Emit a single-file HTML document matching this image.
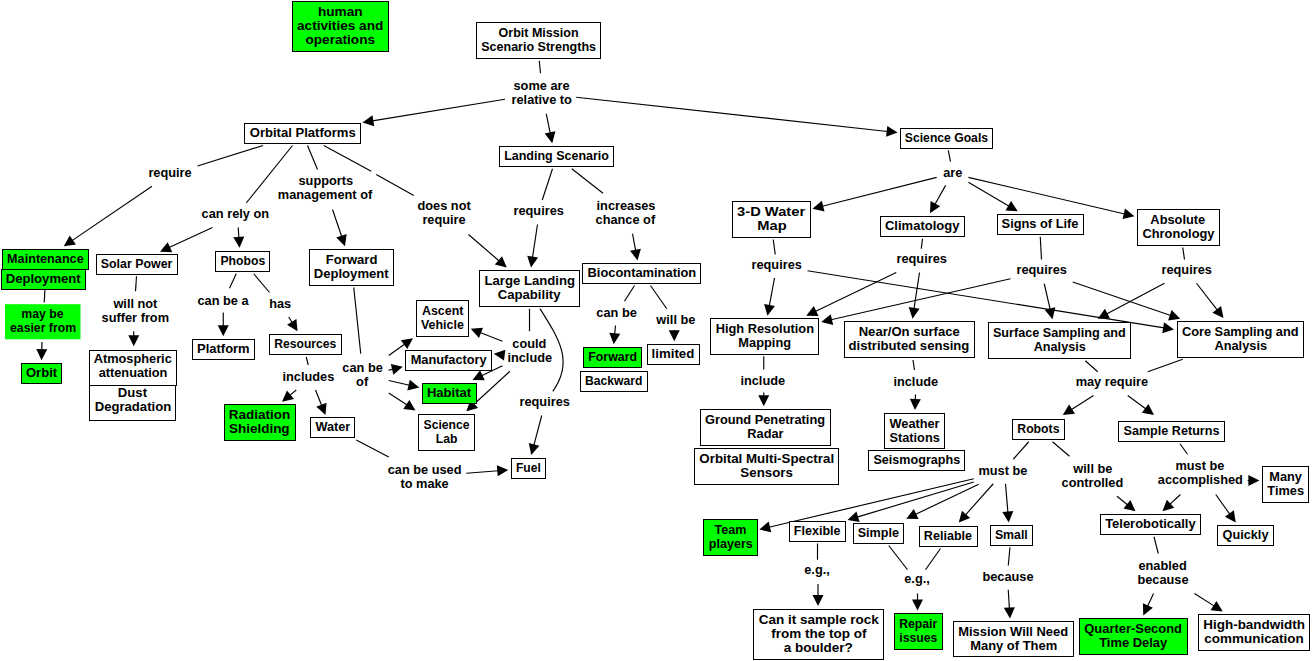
<!DOCTYPE html><html><head><meta charset="utf-8"><style>
html,body{margin:0;padding:0;background:#fff;}
#c{position:relative;width:1312px;height:661px;overflow:hidden;background:#fff;font-family:"Liberation Sans", sans-serif;font-weight:bold;font-size:13.0px;color:#000;}
svg{position:absolute;left:0;top:0;}
.t{position:absolute;white-space:nowrap;line-height:14.0px;height:14.0px;text-align:center;}
.t span{display:inline-block;transform-origin:50% 50%;}
</style></head><body><div id="c">
<svg width="1312" height="661" viewBox="0 0 1312 661"><g stroke="#000" stroke-width="1.15" fill="none"><line x1="539.25" y1="60.75" x2="540.5" y2="73.25"/><line x1="263" y1="145.5" x2="197.5" y2="166"/><line x1="292.5" y1="145.5" x2="246.25" y2="203"/><line x1="307.5" y1="145.5" x2="317.5" y2="169.5"/><line x1="323.75" y1="145.5" x2="371.25" y2="171.25"/><line x1="376.25" y1="174.5" x2="413.75" y2="195.5"/><line x1="552.5" y1="168.75" x2="542.25" y2="200"/><line x1="571.75" y1="168.75" x2="603" y2="193.25"/><line x1="948.3" y1="150.4" x2="950.5" y2="161.6"/><line x1="44.9" y1="289.9" x2="44.2" y2="302.4"/><line x1="136.5" y1="276.25" x2="135.5" y2="291.25"/><line x1="236.25" y1="273.75" x2="229.5" y2="288.25"/><line x1="253.75" y1="273.75" x2="269.5" y2="292.5"/><line x1="306.25" y1="357" x2="308.25" y2="365"/><line x1="353.75" y1="287.5" x2="360.75" y2="353.75"/><line x1="529.5" y1="308.75" x2="529.5" y2="331.25"/><line x1="356.25" y1="440" x2="388.75" y2="457"/><line x1="634.5" y1="285.5" x2="624.5" y2="301.25"/><line x1="650.5" y1="285.5" x2="666.75" y2="308.75"/><line x1="773.25" y1="239.5" x2="775.25" y2="254.5"/><line x1="922.5" y1="238.75" x2="921.25" y2="248.75"/><line x1="1040.25" y1="236.75" x2="1041.5" y2="259.5"/><line x1="1182.75" y1="247.5" x2="1184.5" y2="259.5"/><line x1="763.75" y1="356.25" x2="763.75" y2="369.5"/><line x1="913" y1="360" x2="914.5" y2="370"/><line x1="1085.25" y1="360.75" x2="1097.75" y2="371.75"/><line x1="1182.75" y1="359.25" x2="1147.75" y2="371.75"/><line x1="1028.75" y1="441.75" x2="1013.25" y2="459.25"/><line x1="1052.5" y1="441.75" x2="1069.5" y2="456.25"/><line x1="1180" y1="443.75" x2="1187.5" y2="454.25"/><line x1="817.5" y1="543.5" x2="817.5" y2="559.75"/><line x1="888.75" y1="545.5" x2="907.5" y2="569.75"/><line x1="940.5" y1="548.5" x2="925.5" y2="569.75"/><line x1="1010" y1="547.25" x2="1008.25" y2="565.5"/><line x1="1154" y1="536.75" x2="1158.25" y2="553.5"/><path d="M540,308.7 C559.07,338.89 574.07,361.99 552.8,391.3"/><line x1="505" y1="99.25" x2="372.37" y2="120.89"/><line x1="546.25" y1="113.75" x2="550.26" y2="133.45"/><line x1="576.2" y1="97.2" x2="887.66" y2="131.51"/><line x1="152" y1="186.25" x2="72.02" y2="240.63"/><line x1="212.5" y1="227.5" x2="169.08" y2="247.56"/><line x1="238.2" y1="227.4" x2="238.86" y2="237.82"/><line x1="332.5" y1="209.5" x2="341.78" y2="236.78"/><line x1="468.5" y1="234.5" x2="499.18" y2="260.97"/><line x1="537.5" y1="224.5" x2="532.49" y2="257.61"/><line x1="632.5" y1="233.75" x2="635.66" y2="250.67"/><line x1="936.7" y1="177.4" x2="822.20" y2="206.30"/><line x1="945.6" y1="185.4" x2="934.89" y2="204.53"/><line x1="968.4" y1="182.3" x2="1009.12" y2="206.19"/><line x1="968.4" y1="177.4" x2="1124.76" y2="213.97"/><line x1="42" y1="342" x2="41.77" y2="350.20"/><line x1="133.75" y1="331.25" x2="133.75" y2="336.25"/><line x1="223.25" y1="312.5" x2="223.25" y2="326.25"/><line x1="288.75" y1="317" x2="292.27" y2="322.73"/><line x1="296.25" y1="390" x2="289.72" y2="395.39"/><line x1="315.5" y1="390" x2="321.79" y2="405.72"/><line x1="388.75" y1="355.5" x2="404.85" y2="344.05"/><line x1="388.5" y1="370.2" x2="393.07" y2="369.11"/><line x1="388.75" y1="380.5" x2="409.50" y2="385.26"/><line x1="388.75" y1="393" x2="407.13" y2="405.03"/><line x1="502.5" y1="341.25" x2="480.05" y2="332.41"/><line x1="503.75" y1="355" x2="503.67" y2="354.99"/><line x1="502.5" y1="365.75" x2="481.53" y2="375.71"/><line x1="510" y1="371.25" x2="473.63" y2="404.50"/><line x1="541.75" y1="415.5" x2="533.82" y2="445.34"/><line x1="466.25" y1="473.25" x2="498.28" y2="470.77"/><line x1="615.5" y1="325.5" x2="614.68" y2="334.29"/><line x1="674.25" y1="330" x2="674.25" y2="331.25"/><line x1="774.5" y1="278" x2="769.32" y2="305.92"/><line x1="807.5" y1="270.75" x2="1164.13" y2="327.92"/><line x1="896.25" y1="272.5" x2="815.26" y2="311.42"/><line x1="919.5" y1="272.5" x2="914.00" y2="308.86"/><line x1="1010.5" y1="278.75" x2="831.00" y2="319.77"/><line x1="1044.25" y1="283.75" x2="1050.24" y2="309.51"/><line x1="1072.75" y1="282" x2="1170.79" y2="315.52"/><line x1="1164.5" y1="283.25" x2="1106.58" y2="314.05"/><line x1="1196.5" y1="283.25" x2="1217.36" y2="310.10"/><line x1="763.75" y1="392.5" x2="763.75" y2="396.25"/><line x1="915.5" y1="394.5" x2="915.32" y2="400.01"/><line x1="1093.5" y1="395.5" x2="1071.20" y2="409.64"/><line x1="1127.75" y1="395.5" x2="1145.97" y2="409.04"/><line x1="973.75" y1="478.75" x2="768.98" y2="527.20"/><line x1="973.75" y1="482" x2="857.08" y2="517.12"/><line x1="978.75" y1="484.25" x2="915.28" y2="514.45"/><line x1="993.25" y1="483.75" x2="965.40" y2="515.03"/><line x1="1005.5" y1="483.75" x2="1007.91" y2="512.53"/><line x1="1117" y1="496.25" x2="1127.73" y2="504.95"/><line x1="1247.6" y1="480.5" x2="1249.40" y2="480.50"/><line x1="1180.5" y1="494.5" x2="1169.82" y2="504.44"/><line x1="1215.75" y1="494.5" x2="1229.94" y2="514.36"/><line x1="818" y1="584" x2="818.00" y2="596.00"/><line x1="917.5" y1="593.5" x2="917.50" y2="600.50"/><line x1="1008.25" y1="589.75" x2="1009.39" y2="608.52"/><line x1="1153.5" y1="593.5" x2="1147.47" y2="606.44"/><line x1="1194.5" y1="593.5" x2="1214.32" y2="606.13"/></g><g fill="#000" stroke="none"><polygon points="362.50,122.50 372.47,115.30 374.24,126.16"/><polygon points="552.25,143.25 544.67,133.57 555.45,131.37"/><polygon points="897.60,132.60 886.06,136.86 887.27,125.93"/><polygon points="63.75,246.25 69.75,235.52 75.94,244.61"/><polygon points="160.00,251.75 167.68,242.14 172.29,252.13"/><polygon points="239.50,247.80 233.31,237.17 244.29,236.47"/><polygon points="345.00,246.25 336.25,237.61 346.66,234.06"/><polygon points="506.75,267.50 494.83,264.48 502.01,256.15"/><polygon points="531.00,267.50 527.21,255.80 538.08,257.45"/><polygon points="637.50,260.50 630.07,250.70 640.89,248.68"/><polygon points="812.50,208.75 821.82,200.73 824.51,211.39"/><polygon points="930.00,213.25 930.58,200.97 940.17,206.34"/><polygon points="1017.75,211.25 1005.48,210.43 1011.04,200.94"/><polygon points="1134.50,216.25 1122.54,219.10 1125.04,208.39"/><polygon points="41.50,360.20 36.30,349.05 47.30,349.36"/><polygon points="133.75,346.25 128.25,335.25 139.25,335.25"/><polygon points="223.25,336.25 217.75,325.25 228.75,325.25"/><polygon points="297.50,331.25 287.06,324.75 296.43,319.00"/><polygon points="282.00,401.75 286.99,390.51 293.99,399.00"/><polygon points="325.50,415.00 316.31,406.83 326.52,402.74"/><polygon points="413.00,338.25 407.22,349.11 400.85,340.14"/><polygon points="402.80,366.80 393.37,374.70 390.83,363.99"/><polygon points="419.25,387.50 407.30,390.40 409.76,379.68"/><polygon points="415.50,410.50 403.28,409.08 409.31,399.88"/><polygon points="470.75,328.75 483.00,327.66 478.97,337.90"/><polygon points="493.75,353.75 505.35,349.66 503.98,360.57"/><polygon points="472.50,380.00 480.08,370.31 484.80,380.25"/><polygon points="466.25,411.25 470.66,399.77 478.08,407.89"/><polygon points="531.25,455.00 528.76,442.96 539.39,445.78"/><polygon points="508.25,470.00 497.71,476.33 496.86,465.37"/><polygon points="613.75,344.25 609.30,332.79 620.25,333.81"/><polygon points="674.25,341.25 668.75,330.25 679.75,330.25"/><polygon points="767.50,315.75 764.10,303.93 774.91,305.94"/><polygon points="1174.00,329.50 1162.27,333.19 1164.01,322.33"/><polygon points="806.25,315.75 813.78,306.03 818.55,315.94"/><polygon points="912.50,318.75 908.71,307.05 919.58,308.70"/><polygon points="821.25,322.00 830.75,314.19 833.20,324.91"/><polygon points="1052.50,319.25 1044.65,309.78 1055.37,307.29"/><polygon points="1180.25,318.75 1168.06,320.40 1171.62,309.99"/><polygon points="1097.75,318.75 1104.88,308.73 1110.04,318.44"/><polygon points="1223.50,318.00 1212.41,312.69 1221.09,305.94"/><polygon points="763.75,406.25 758.25,395.25 769.25,395.25"/><polygon points="915.00,410.00 909.86,398.83 920.85,399.18"/><polygon points="1062.75,415.00 1069.09,404.46 1074.99,413.75"/><polygon points="1154.00,415.00 1141.89,412.86 1148.45,404.03"/><polygon points="759.25,529.50 768.69,521.62 771.22,532.32"/><polygon points="847.50,520.00 856.45,511.56 859.62,522.10"/><polygon points="906.25,518.75 913.82,509.06 918.55,518.99"/><polygon points="958.75,522.50 961.96,510.63 970.17,517.94"/><polygon points="1008.75,522.50 1002.35,512.00 1013.31,511.08"/><polygon points="1135.50,511.25 1123.49,508.59 1130.42,500.05"/><polygon points="1259.40,480.50 1248.40,486.00 1248.40,475.00"/><polygon points="1162.50,511.25 1166.81,499.73 1174.30,507.78"/><polygon points="1235.75,522.50 1224.88,516.75 1233.83,510.35"/><polygon points="818.00,606.00 812.50,595.00 823.50,595.00"/><polygon points="917.50,610.50 912.00,599.50 923.00,599.50"/><polygon points="1010.00,618.50 1003.84,607.85 1014.82,607.19"/><polygon points="1143.25,615.50 1142.91,603.21 1152.88,607.85"/><polygon points="1222.75,611.50 1210.52,610.23 1216.43,600.95"/></g><rect x="292.5" y="1.5" width="96" height="50" fill="#00ff00" stroke="#000" stroke-width="1"/><rect x="476.5" y="22.5" width="124" height="36" fill="#fff" stroke="#000" stroke-width="1"/><rect x="244.5" y="123.5" width="116" height="20" fill="#fff" stroke="#000" stroke-width="1"/><rect x="499.5" y="146.5" width="114" height="20" fill="#fff" stroke="#000" stroke-width="1"/><rect x="900.5" y="128.5" width="92" height="20" fill="#fff" stroke="#000" stroke-width="1"/><rect x="2.5" y="249.5" width="86" height="20" fill="#00ff00" stroke="#000" stroke-width="1"/><rect x="1.5" y="269.5" width="84" height="20" fill="#00ff00" stroke="#000" stroke-width="1"/><rect x="5" y="304.2" width="75.50" height="35.10" fill="#00ff00" stroke="none"/><rect x="21.5" y="363.5" width="40" height="20" fill="#00ff00" stroke="#000" stroke-width="1"/><rect x="96.5" y="254.5" width="81" height="20" fill="#fff" stroke="#000" stroke-width="1"/><rect x="215.5" y="251.5" width="54" height="20" fill="#fff" stroke="#000" stroke-width="1"/><rect x="309.5" y="249.5" width="84" height="36" fill="#fff" stroke="#000" stroke-width="1"/><rect x="479.5" y="270.5" width="100" height="36" fill="#fff" stroke="#000" stroke-width="1"/><rect x="582.5" y="263.5" width="118" height="20" fill="#fff" stroke="#000" stroke-width="1"/><rect x="732.5" y="201.5" width="78" height="36" fill="#fff" stroke="#000" stroke-width="1"/><rect x="880.5" y="216.5" width="84" height="20" fill="#fff" stroke="#000" stroke-width="1"/><rect x="997.5" y="214.5" width="86" height="20" fill="#fff" stroke="#000" stroke-width="1"/><rect x="1137.5" y="209.5" width="82" height="36" fill="#fff" stroke="#000" stroke-width="1"/><rect x="89.5" y="350.5" width="87" height="35" fill="#fff" stroke="#000" stroke-width="1"/><rect x="89.5" y="385.5" width="86" height="35" fill="#fff" stroke="#000" stroke-width="1"/><rect x="192.5" y="339.5" width="62" height="20" fill="#fff" stroke="#000" stroke-width="1"/><rect x="269.5" y="334.5" width="72" height="20" fill="#fff" stroke="#000" stroke-width="1"/><rect x="224.5" y="404.5" width="71" height="36" fill="#00ff00" stroke="#000" stroke-width="1"/><rect x="310.5" y="417.5" width="44" height="20" fill="#fff" stroke="#000" stroke-width="1"/><rect x="416.5" y="300.5" width="52" height="36" fill="#fff" stroke="#000" stroke-width="1"/><rect x="405.5" y="350.5" width="86" height="20" fill="#fff" stroke="#000" stroke-width="1"/><rect x="422.5" y="383.5" width="54" height="20" fill="#00ff00" stroke="#000" stroke-width="1"/><rect x="418.5" y="414.5" width="56" height="36" fill="#fff" stroke="#000" stroke-width="1"/><rect x="511.5" y="458.5" width="34" height="20" fill="#fff" stroke="#000" stroke-width="1"/><rect x="583.5" y="347.5" width="58" height="20" fill="#00ff00" stroke="#000" stroke-width="1"/><rect x="580.5" y="371.5" width="67" height="20" fill="#fff" stroke="#000" stroke-width="1"/><rect x="647.5" y="344.5" width="52" height="20" fill="#fff" stroke="#000" stroke-width="1"/><rect x="710.5" y="318.5" width="108" height="36" fill="#fff" stroke="#000" stroke-width="1"/><rect x="844.5" y="321.5" width="130" height="36" fill="#fff" stroke="#000" stroke-width="1"/><rect x="988.5" y="322.5" width="142" height="36" fill="#fff" stroke="#000" stroke-width="1"/><rect x="1177.5" y="321.5" width="126" height="36" fill="#fff" stroke="#000" stroke-width="1"/><rect x="700.5" y="409.5" width="130" height="36" fill="#fff" stroke="#000" stroke-width="1"/><rect x="694.5" y="448.5" width="144" height="36" fill="#fff" stroke="#000" stroke-width="1"/><rect x="884.5" y="413.5" width="60" height="35" fill="#fff" stroke="#000" stroke-width="1"/><rect x="868.5" y="450.5" width="96" height="20" fill="#fff" stroke="#000" stroke-width="1"/><rect x="1012.5" y="419.5" width="52" height="20" fill="#fff" stroke="#000" stroke-width="1"/><rect x="1118.5" y="421.5" width="106" height="20" fill="#fff" stroke="#000" stroke-width="1"/><rect x="1262.5" y="466.5" width="46" height="36" fill="#fff" stroke="#000" stroke-width="1"/><rect x="1100.5" y="514.5" width="100" height="20" fill="#fff" stroke="#000" stroke-width="1"/><rect x="1217.5" y="525.5" width="56" height="20" fill="#fff" stroke="#000" stroke-width="1"/><rect x="703.5" y="519.5" width="54" height="36" fill="#00ff00" stroke="#000" stroke-width="1"/><rect x="789.5" y="521.5" width="56" height="20" fill="#fff" stroke="#000" stroke-width="1"/><rect x="853.5" y="523.5" width="50" height="20" fill="#fff" stroke="#000" stroke-width="1"/><rect x="919.5" y="526.5" width="58" height="20" fill="#fff" stroke="#000" stroke-width="1"/><rect x="990.5" y="525.5" width="42" height="20" fill="#fff" stroke="#000" stroke-width="1"/><rect x="753.5" y="609.5" width="130" height="50" fill="#fff" stroke="#000" stroke-width="1"/><rect x="894.5" y="613.5" width="48" height="36" fill="#00ff00" stroke="#000" stroke-width="1"/><rect x="953.5" y="621.5" width="120" height="35" fill="#fff" stroke="#000" stroke-width="1"/><rect x="1079.5" y="618.5" width="108" height="36" fill="#00ff00" stroke="#000" stroke-width="1"/><rect x="1198.5" y="614.5" width="111" height="36" fill="#fff" stroke="#000" stroke-width="1"/></svg>
<div class="t" style="left:140.40px;top:4.85px;width:400px"><span id="s0" style="transform:scaleX(1.048)">human</span></div>
<div class="t" style="left:140.40px;top:18.85px;width:400px"><span id="s1" style="transform:scaleX(1.048)">activities and</span></div>
<div class="t" style="left:140.40px;top:32.85px;width:400px"><span id="s2" style="transform:scaleX(1.048)">operations</span></div>
<div class="t" style="left:338.38px;top:25.75px;width:400px"><span id="s3" style="transform:scaleX(0.963)">Orbit Mission</span></div>
<div class="t" style="left:338.38px;top:39.75px;width:400px"><span id="s4" style="transform:scaleX(0.963)">Scenario Strengths</span></div>
<div class="t" style="left:102.50px;top:125.85px;width:400px"><span id="s5" style="transform:scaleX(1.004)">Orbital Platforms</span></div>
<div class="t" style="left:356.38px;top:148.88px;width:400px"><span id="s6" style="transform:scaleX(0.960)">Landing Scenario</span></div>
<div class="t" style="left:746.45px;top:130.90px;width:400px"><span id="s7" style="transform:scaleX(0.936)">Science Goals</span></div>
<div class="t" style="left:-154.65px;top:252.00px;width:400px"><span id="s8" style="transform:scaleX(0.973)">Maintenance</span></div>
<div class="t" style="left:-156.60px;top:271.95px;width:400px"><span id="s9" style="transform:scaleX(1.009)">Deployment</span></div>
<div class="t" style="left:-157.25px;top:307.25px;width:400px"><span id="s10" style="transform:scaleX(0.942)">may be</span></div>
<div class="t" style="left:-157.25px;top:321.25px;width:400px"><span id="s11" style="transform:scaleX(0.942)">easier from</span></div>
<div class="t" style="left:-158.47px;top:365.95px;width:400px"><span id="s12" style="transform:scaleX(1.006)">Orbit</span></div>
<div class="t" style="left:-63.50px;top:256.75px;width:400px"><span id="s13" style="transform:scaleX(0.952)">Solar Power</span></div>
<div class="t" style="left:42.38px;top:253.88px;width:400px"><span id="s14" style="transform:scaleX(0.939)">Phobos</span></div>
<div class="t" style="left:151.43px;top:252.88px;width:400px"><span id="s15" style="transform:scaleX(1.006)">Forward</span></div>
<div class="t" style="left:151.43px;top:266.88px;width:400px"><span id="s16" style="transform:scaleX(1.006)">Deployment</span></div>
<div class="t" style="left:329.45px;top:273.62px;width:400px"><span id="s17" style="transform:scaleX(1.012)">Large Landing</span></div>
<div class="t" style="left:329.45px;top:287.62px;width:400px"><span id="s18" style="transform:scaleX(1.012)">Capability</span></div>
<div class="t" style="left:441.40px;top:265.77px;width:400px"><span id="s19" style="transform:scaleX(0.990)">Biocontamination</span></div>
<div class="t" style="left:571.50px;top:204.75px;width:400px"><span id="s20" style="transform:scaleX(1.130)">3-D Water</span></div>
<div class="t" style="left:571.50px;top:218.75px;width:400px"><span id="s21" style="transform:scaleX(1.130)">Map</span></div>
<div class="t" style="left:722.50px;top:219.00px;width:400px"><span id="s22" style="transform:scaleX(1.001)">Climatology</span></div>
<div class="t" style="left:840.38px;top:216.88px;width:400px"><span id="s23" style="transform:scaleX(0.984)">Signs of Life</span></div>
<div class="t" style="left:978.25px;top:212.75px;width:400px"><span id="s24" style="transform:scaleX(0.987)">Absolute</span></div>
<div class="t" style="left:978.25px;top:226.75px;width:400px"><span id="s25" style="transform:scaleX(0.987)">Chronology</span></div>
<div class="t" style="left:-67.25px;top:352.20px;width:400px"><span id="s26" style="transform:scaleX(0.982)">Atmospheric</span></div>
<div class="t" style="left:-67.25px;top:366.20px;width:400px"><span id="s27" style="transform:scaleX(0.982)">attenuation</span></div>
<div class="t" style="left:-67.50px;top:386.00px;width:400px"><span id="s28" style="transform:scaleX(1.009)">Dust</span></div>
<div class="t" style="left:-67.50px;top:400.00px;width:400px"><span id="s29" style="transform:scaleX(1.009)">Degradation</span></div>
<div class="t" style="left:23.50px;top:341.75px;width:400px"><span id="s30" style="transform:scaleX(0.996)">Platform</span></div>
<div class="t" style="left:105.50px;top:336.88px;width:400px"><span id="s31" style="transform:scaleX(0.933)">Resources</span></div>
<div class="t" style="left:59.50px;top:407.75px;width:400px"><span id="s32" style="transform:scaleX(1.038)">Radiation</span></div>
<div class="t" style="left:59.50px;top:421.75px;width:400px"><span id="s33" style="transform:scaleX(1.038)">Shielding</span></div>
<div class="t" style="left:132.38px;top:420.00px;width:400px"><span id="s34" style="transform:scaleX(0.975)">Water</span></div>
<div class="t" style="left:242.38px;top:304.00px;width:400px"><span id="s35" style="transform:scaleX(0.954)">Ascent</span></div>
<div class="t" style="left:242.38px;top:318.00px;width:400px"><span id="s36" style="transform:scaleX(0.954)">Vehicle</span></div>
<div class="t" style="left:248.50px;top:353.00px;width:400px"><span id="s37" style="transform:scaleX(0.983)">Manufactory</span></div>
<div class="t" style="left:249.38px;top:386.00px;width:400px"><span id="s38" style="transform:scaleX(1.004)">Habitat</span></div>
<div class="t" style="left:246.65px;top:417.88px;width:400px"><span id="s39" style="transform:scaleX(0.936)">Science</span></div>
<div class="t" style="left:246.65px;top:431.88px;width:400px"><span id="s40" style="transform:scaleX(0.936)">Lab</span></div>
<div class="t" style="left:328.38px;top:460.88px;width:400px"><span id="s41" style="transform:scaleX(0.926)">Fuel</span></div>
<div class="t" style="left:412.38px;top:350.00px;width:400px"><span id="s42" style="transform:scaleX(0.950)">Forward</span></div>
<div class="t" style="left:413.50px;top:373.88px;width:400px"><span id="s43" style="transform:scaleX(0.936)">Backward</span></div>
<div class="t" style="left:473.38px;top:346.75px;width:400px"><span id="s44" style="transform:scaleX(1.020)">limited</span></div>
<div class="t" style="left:564.38px;top:322.00px;width:400px"><span id="s45" style="transform:scaleX(0.986)">High Resolution</span></div>
<div class="t" style="left:564.38px;top:336.00px;width:400px"><span id="s46" style="transform:scaleX(0.986)">Mapping</span></div>
<div class="t" style="left:709.38px;top:324.88px;width:400px"><span id="s47" style="transform:scaleX(1.007)">Near/On surface</span></div>
<div class="t" style="left:709.38px;top:338.88px;width:400px"><span id="s48" style="transform:scaleX(1.007)">distributed sensing</span></div>
<div class="t" style="left:859.38px;top:325.75px;width:400px"><span id="s49" style="transform:scaleX(0.972)">Surface Sampling and</span></div>
<div class="t" style="left:859.38px;top:339.75px;width:400px"><span id="s50" style="transform:scaleX(0.972)">Analysis</span></div>
<div class="t" style="left:1040.38px;top:324.88px;width:400px"><span id="s51" style="transform:scaleX(0.985)">Core Sampling and</span></div>
<div class="t" style="left:1040.38px;top:338.88px;width:400px"><span id="s52" style="transform:scaleX(0.985)">Analysis</span></div>
<div class="t" style="left:565.50px;top:412.75px;width:400px"><span id="s53" style="transform:scaleX(0.983)">Ground Penetrating</span></div>
<div class="t" style="left:565.50px;top:426.75px;width:400px"><span id="s54" style="transform:scaleX(0.983)">Radar</span></div>
<div class="t" style="left:566.38px;top:451.75px;width:400px"><span id="s55" style="transform:scaleX(1.025)">Orbital Multi-Spectral</span></div>
<div class="t" style="left:566.38px;top:465.75px;width:400px"><span id="s56" style="transform:scaleX(1.025)">Sensors</span></div>
<div class="t" style="left:714.38px;top:416.75px;width:400px"><span id="s57" style="transform:scaleX(0.980)">Weather</span></div>
<div class="t" style="left:714.38px;top:430.75px;width:400px"><span id="s58" style="transform:scaleX(0.980)">Stations</span></div>
<div class="t" style="left:716.38px;top:452.75px;width:400px"><span id="s59" style="transform:scaleX(0.968)">Seismographs</span></div>
<div class="t" style="left:838.38px;top:422.00px;width:400px"><span id="s60" style="transform:scaleX(0.943)">Robots</span></div>
<div class="t" style="left:971.50px;top:423.88px;width:400px"><span id="s61" style="transform:scaleX(0.970)">Sample Returns</span></div>
<div class="t" style="left:1085.35px;top:469.85px;width:400px"><span id="s62" style="transform:scaleX(0.980)">Many</span></div>
<div class="t" style="left:1085.35px;top:483.85px;width:400px"><span id="s63" style="transform:scaleX(0.980)">Times</span></div>
<div class="t" style="left:950.50px;top:516.95px;width:400px"><span id="s64" style="transform:scaleX(0.997)">Telerobotically</span></div>
<div class="t" style="left:1045.47px;top:527.75px;width:400px"><span id="s65" style="transform:scaleX(0.978)">Quickly</span></div>
<div class="t" style="left:530.50px;top:522.90px;width:400px"><span id="s66" style="transform:scaleX(0.966)">Team</span></div>
<div class="t" style="left:530.50px;top:536.90px;width:400px"><span id="s67" style="transform:scaleX(0.966)">players</span></div>
<div class="t" style="left:617.38px;top:524.05px;width:400px"><span id="s68" style="transform:scaleX(0.965)">Flexible</span></div>
<div class="t" style="left:678.35px;top:525.95px;width:400px"><span id="s69" style="transform:scaleX(0.967)">Simple</span></div>
<div class="t" style="left:748.38px;top:528.95px;width:400px"><span id="s70" style="transform:scaleX(0.968)">Reliable</span></div>
<div class="t" style="left:811.50px;top:527.80px;width:400px"><span id="s71" style="transform:scaleX(0.948)">Small</span></div>
<div class="t" style="left:618.50px;top:613.00px;width:400px"><span id="s72" style="transform:scaleX(1.038)">Can it sample rock</span></div>
<div class="t" style="left:618.50px;top:627.00px;width:400px"><span id="s73" style="transform:scaleX(1.038)">from the top of</span></div>
<div class="t" style="left:618.50px;top:641.00px;width:400px"><span id="s74" style="transform:scaleX(1.038)">a boulder?</span></div>
<div class="t" style="left:718.25px;top:616.75px;width:400px"><span id="s75" style="transform:scaleX(0.939)">Repair</span></div>
<div class="t" style="left:718.25px;top:630.75px;width:400px"><span id="s76" style="transform:scaleX(0.939)">issues</span></div>
<div class="t" style="left:813.50px;top:624.62px;width:400px"><span id="s77" style="transform:scaleX(0.996)">Mission Will Need</span></div>
<div class="t" style="left:813.50px;top:638.62px;width:400px"><span id="s78" style="transform:scaleX(0.996)">Many of Them</span></div>
<div class="t" style="left:933.38px;top:621.75px;width:400px"><span id="s79" style="transform:scaleX(0.995)">Quarter-Second</span></div>
<div class="t" style="left:933.38px;top:635.75px;width:400px"><span id="s80" style="transform:scaleX(0.995)">Time Delay</span></div>
<div class="t" style="left:1054.12px;top:618.00px;width:400px"><span id="s81" style="transform:scaleX(1.036)">High-bandwidth</span></div>
<div class="t" style="left:1054.12px;top:632.00px;width:400px"><span id="s82" style="transform:scaleX(1.036)">communication</span></div>
<div class="t" style="left:341.75px;top:78.75px;width:400px"><span id="s83" style="transform:scaleX(0.982)">some are</span></div>
<div class="t" style="left:341.75px;top:92.75px;width:400px"><span id="s84" style="transform:scaleX(0.982)">relative to</span></div>
<div class="t" style="left:-29.50px;top:165.50px;width:400px"><span id="s85" style="transform:scaleX(0.982)">require</span></div>
<div class="t" style="left:35.75px;top:207.25px;width:400px"><span id="s86" style="transform:scaleX(0.982)">can rely on</span></div>
<div class="t" style="left:125.50px;top:173.75px;width:400px"><span id="s87" style="transform:scaleX(0.982)">supports</span></div>
<div class="t" style="left:125.50px;top:187.75px;width:400px"><span id="s88" style="transform:scaleX(0.982)">management of</span></div>
<div class="t" style="left:243.60px;top:199.25px;width:400px"><span id="s89" style="transform:scaleX(0.982)">does not</span></div>
<div class="t" style="left:243.60px;top:213.25px;width:400px"><span id="s90" style="transform:scaleX(0.982)">require</span></div>
<div class="t" style="left:338.50px;top:204.25px;width:400px"><span id="s91" style="transform:scaleX(0.982)">requires</span></div>
<div class="t" style="left:425.50px;top:199.25px;width:400px"><span id="s92" style="transform:scaleX(0.982)">increases</span></div>
<div class="t" style="left:425.50px;top:213.25px;width:400px"><span id="s93" style="transform:scaleX(0.982)">chance of</span></div>
<div class="t" style="left:752.70px;top:165.50px;width:400px"><span id="s94" style="transform:scaleX(0.982)">are</span></div>
<div class="t" style="left:-65.00px;top:297.25px;width:400px"><span id="s95" style="transform:scaleX(0.982)">will not</span></div>
<div class="t" style="left:-65.00px;top:311.25px;width:400px"><span id="s96" style="transform:scaleX(0.982)">suffer from</span></div>
<div class="t" style="left:23.25px;top:293.50px;width:400px"><span id="s97" style="transform:scaleX(0.982)">can be a</span></div>
<div class="t" style="left:80.00px;top:296.75px;width:400px"><span id="s98" style="transform:scaleX(0.982)">has</span></div>
<div class="t" style="left:108.75px;top:370.00px;width:400px"><span id="s99" style="transform:scaleX(0.982)">includes</span></div>
<div class="t" style="left:162.50px;top:360.50px;width:400px"><span id="s100" style="transform:scaleX(0.982)">can be</span></div>
<div class="t" style="left:162.50px;top:374.50px;width:400px"><span id="s101" style="transform:scaleX(0.982)">of</span></div>
<div class="t" style="left:329.50px;top:337.25px;width:400px"><span id="s102" style="transform:scaleX(0.982)">could</span></div>
<div class="t" style="left:329.50px;top:351.25px;width:400px"><span id="s103" style="transform:scaleX(0.982)">include</span></div>
<div class="t" style="left:344.75px;top:394.90px;width:400px"><span id="s104" style="transform:scaleX(0.982)">requires</span></div>
<div class="t" style="left:224.50px;top:463.00px;width:400px"><span id="s105" style="transform:scaleX(0.982)">can be used</span></div>
<div class="t" style="left:224.50px;top:477.00px;width:400px"><span id="s106" style="transform:scaleX(0.982)">to make</span></div>
<div class="t" style="left:416.25px;top:306.25px;width:400px"><span id="s107" style="transform:scaleX(0.982)">can be</span></div>
<div class="t" style="left:475.50px;top:313.00px;width:400px"><span id="s108" style="transform:scaleX(0.982)">will be</span></div>
<div class="t" style="left:576.50px;top:257.50px;width:400px"><span id="s109" style="transform:scaleX(0.982)">requires</span></div>
<div class="t" style="left:721.50px;top:252.10px;width:400px"><span id="s110" style="transform:scaleX(0.982)">requires</span></div>
<div class="t" style="left:841.40px;top:263.00px;width:400px"><span id="s111" style="transform:scaleX(0.982)">requires</span></div>
<div class="t" style="left:986.50px;top:263.00px;width:400px"><span id="s112" style="transform:scaleX(0.982)">requires</span></div>
<div class="t" style="left:562.50px;top:373.75px;width:400px"><span id="s113" style="transform:scaleX(0.982)">include</span></div>
<div class="t" style="left:716.25px;top:375.00px;width:400px"><span id="s114" style="transform:scaleX(0.982)">include</span></div>
<div class="t" style="left:912.20px;top:374.90px;width:400px"><span id="s115" style="transform:scaleX(0.982)">may require</span></div>
<div class="t" style="left:803.25px;top:464.25px;width:400px"><span id="s116" style="transform:scaleX(0.982)">must be</span></div>
<div class="t" style="left:892.50px;top:462.25px;width:400px"><span id="s117" style="transform:scaleX(0.982)">will be</span></div>
<div class="t" style="left:892.50px;top:476.25px;width:400px"><span id="s118" style="transform:scaleX(0.982)">controlled</span></div>
<div class="t" style="left:1000.00px;top:459.25px;width:400px"><span id="s119" style="transform:scaleX(0.982)">must be</span></div>
<div class="t" style="left:1000.00px;top:473.25px;width:400px"><span id="s120" style="transform:scaleX(0.982)">accomplished</span></div>
<div class="t" style="left:617.00px;top:563.25px;width:400px"><span id="s121" style="transform:scaleX(0.982)">e.g.,</span></div>
<div class="t" style="left:717.00px;top:572.25px;width:400px"><span id="s122" style="transform:scaleX(0.982)">e.g.,</span></div>
<div class="t" style="left:807.75px;top:569.75px;width:400px"><span id="s123" style="transform:scaleX(0.982)">because</span></div>
<div class="t" style="left:962.75px;top:559.00px;width:400px"><span id="s124" style="transform:scaleX(0.982)">enabled</span></div>
<div class="t" style="left:962.75px;top:573.00px;width:400px"><span id="s125" style="transform:scaleX(0.982)">because</span></div>
</div></body></html>
